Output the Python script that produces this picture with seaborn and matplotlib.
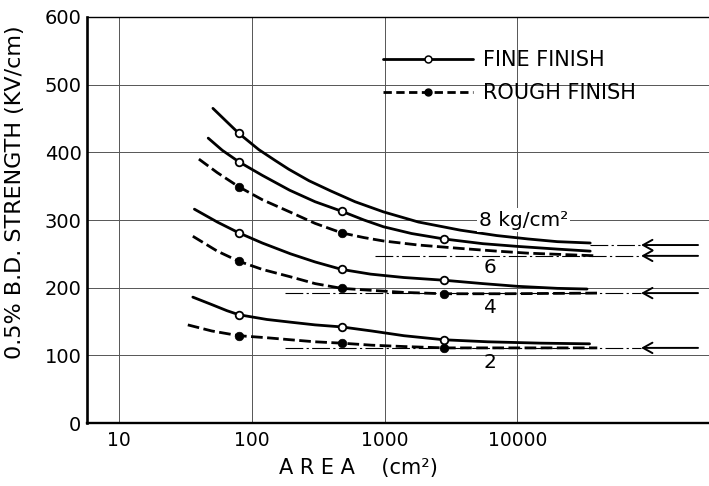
import numpy as np
import pandas as pd
import matplotlib
matplotlib.use("Agg")
import matplotlib.pyplot as plt
import seaborn as sns
from matplotlib.lines import Line2D

# ---------------- data ----------------
# Fine finish curves (area in cm^2, 0.5% breakdown strength in KV/cm)
fine8_x = [51, 65, 80, 113, 150, 190, 270, 393, 600, 982, 1800, 3720, 7000, 12000, 20000, 35400]
fine8_y = [465, 445, 428, 404, 388, 375, 358, 343, 327, 312, 297, 285, 277, 272, 268, 266]
fine6_x = [47, 60, 80, 120, 193, 300, 475, 700, 982, 1600, 2800, 5500, 10000, 20000, 35400]
fine6_y = [421, 403, 386, 366, 344, 327, 313, 300, 290, 280, 272, 265, 261, 257, 254]
fine4_x = [37, 55, 80, 120, 196, 300, 475, 785, 1400, 2800, 5500, 10000, 20000, 33500]
fine4_y = [316, 297, 281, 266, 250, 238, 227, 220, 215, 211, 206, 202, 199, 198]
fine2_x = [36, 50, 65, 80, 130, 196, 300, 475, 800, 1400, 2800, 6000, 15000, 35000]
fine2_y = [186, 175, 166, 160, 153, 149, 145, 142, 136, 129, 123, 120, 118, 117]

# Rough finish curves
rough6_x = [40, 55, 80, 120, 193, 300, 475, 700, 982, 1800, 3720, 7000, 12000, 22000, 40000]
rough6_y = [390, 370, 349, 330, 312, 295, 281, 274, 269, 263, 258, 254, 251, 249, 247]
rough4_x = [36, 55, 80, 120, 196, 300, 475, 800, 1400, 2800, 8000, 40000]
rough4_y = [276, 254, 239, 227, 216, 206, 199, 196, 193, 191, 191, 192]
rough2_x = [33, 50, 80, 130, 196, 300, 475, 800, 1400, 2800, 10000, 40000]
rough2_y = [145, 136, 129, 126, 123, 120, 118, 115, 113, 111, 111, 111]

# Measured points (markers)
fine_pts_x = [80, 80, 475, 2800, 80, 475, 2800, 80, 475, 2800]
fine_pts_y = [428, 386, 313, 272, 281, 227, 211, 160, 142, 123]
rough_pts_x = [80, 475, 80, 475, 2800, 80, 475, 2800]
rough_pts_y = [349, 281, 239, 199, 191, 129, 118, 111]

# Asymptotic values (dash-dot lines with arrows)
asym_values = [263, 247, 192, 111]
asym_start_x = [35400, 850, 177, 177]
asym_end_x = 85500
arrow_tail_x = 229600

# Pressure labels
press_labels = ["8 kg/cm²", "6", "4", "2"]
press_x = [11100, 6270, 6270, 6270]
press_y = [300, 230, 171, 90]

x_ticks = [10, 100, 1000, 10000]
x_ticklabels = ["10", "100", "1000", "10000"]
y_ticks = [0, 100, 200, 300, 400, 500, 600]

# ---------------- figure ----------------
sns.set_theme(style="white")
plt.rcParams["font.family"] = ["DejaVu Sans"]
plt.rcParams["text.color"] = "black"
plt.rcParams["axes.labelcolor"] = "black"
plt.rcParams["xtick.color"] = "black"
plt.rcParams["ytick.color"] = "black"

W, H = 709, 486
fig = plt.figure(figsize=(W / 100, H / 100), dpi=100)
ax = fig.add_axes([87 / W, 63 / H, 622 / W, 406 / H])
ax.set_xscale("log")
ax.set_xlim(5.745, 277700)
ax.set_ylim(0, 600)

LW = 2.0
DASH = (4.2, 1.6)

for xs, ys in [(fine8_x, fine8_y), (fine6_x, fine6_y), (fine4_x, fine4_y), (fine2_x, fine2_y)]:
    sns.lineplot(x=xs, y=ys, ax=ax, color="black", lw=LW, estimator=None, sort=True, zorder=3)

for xs, ys in [(rough6_x, rough6_y), (rough4_x, rough4_y), (rough2_x, rough2_y)]:
    sns.lineplot(x=xs, y=ys, ax=ax, color="black", lw=LW, estimator=None, sort=True, zorder=3)
    ax.lines[-1].set_dashes(DASH)

sns.scatterplot(x=fine_pts_x, y=fine_pts_y, ax=ax, marker="o", s=30,
                facecolor="white", edgecolor="black", linewidth=1.3, zorder=5)
sns.scatterplot(x=rough_pts_x, y=rough_pts_y, ax=ax, marker="o", s=38,
                color="black", edgecolor="black", linewidth=0.5, zorder=5)

# asymptote dash-dot lines and arrows
for v, sx in zip(asym_values, asym_start_x):
    sns.lineplot(x=[sx, asym_end_x], y=[v, v], ax=ax, color="black", lw=0.8, zorder=2)
    ax.lines[-1].set_dashes((16, 3, 2, 3))
    ax.annotate("", xy=(asym_end_x, v), xytext=(arrow_tail_x, v),
                arrowprops=dict(arrowstyle="->,head_length=0.45,head_width=0.25",
                                lw=1.4, color="black", mutation_scale=15,
                                shrinkA=0, shrinkB=0), zorder=4)

for s, px, py in zip(press_labels, press_x, press_y):
    kw = {}
    if s.startswith("8"):
        kw["bbox"] = dict(facecolor="white", edgecolor="none", pad=1.5)
    ax.text(px, py, s, ha="center", va="center", fontsize=14.5, color="black", zorder=4, **kw)

# legend
handles = [
    Line2D([], [], color="black", lw=LW, marker="o", markersize=5,
           markerfacecolor="white", markeredgecolor="black", markeredgewidth=1.1),
    Line2D([], [], color="black", lw=LW, dashes=(3.0, 1.6), marker="o", markersize=5,
           markerfacecolor="black", markeredgecolor="black"),
]
leg = ax.legend(handles, ["FINE FINISH", "ROUGH FINISH"], loc="upper left",
                bbox_to_anchor=(383 / W, 1 - 50 / H), bbox_transform=fig.transFigure,
                frameon=False, fontsize=15, handlelength=4.3, handletextpad=0.5,
                labelspacing=0.62, borderpad=0, borderaxespad=0, numpoints=1)
for t in leg.get_texts():
    t.set_color("black")

# axes styling
ax.set_xticks(x_ticks)
ax.set_xticklabels(x_ticklabels)
ax.xaxis.set_minor_locator(matplotlib.ticker.NullLocator())
ax.set_yticks(y_ticks)
ax.tick_params(axis="x", length=0, pad=6, labelsize=13.5, colors="black")
ax.tick_params(axis="y", length=0, pad=4, labelsize=14, colors="black")
ax.grid(True, which="major", color="#555555", lw=0.7)
ax.set_axisbelow(True)

ax.spines["right"].set_visible(False)
ax.spines["left"].set_linewidth(1.9)
ax.spines["bottom"].set_linewidth(1.7)
ax.spines["top"].set_linewidth(1.0)
for sp in ["left", "bottom", "top"]:
    ax.spines[sp].set_color("black")

ax.set_ylabel("0.5% B.D. STRENGTH (KV/cm)", fontsize=16, color="black")
ax.yaxis.set_label_coords(-0.0997, 0.569)
ax.set_xlabel("A R E A    (cm²)", fontsize=15, color="black")
ax.xaxis.set_label_coords(0.437, -0.086)

fig.savefig("out.png", dpi=100, facecolor="white")
